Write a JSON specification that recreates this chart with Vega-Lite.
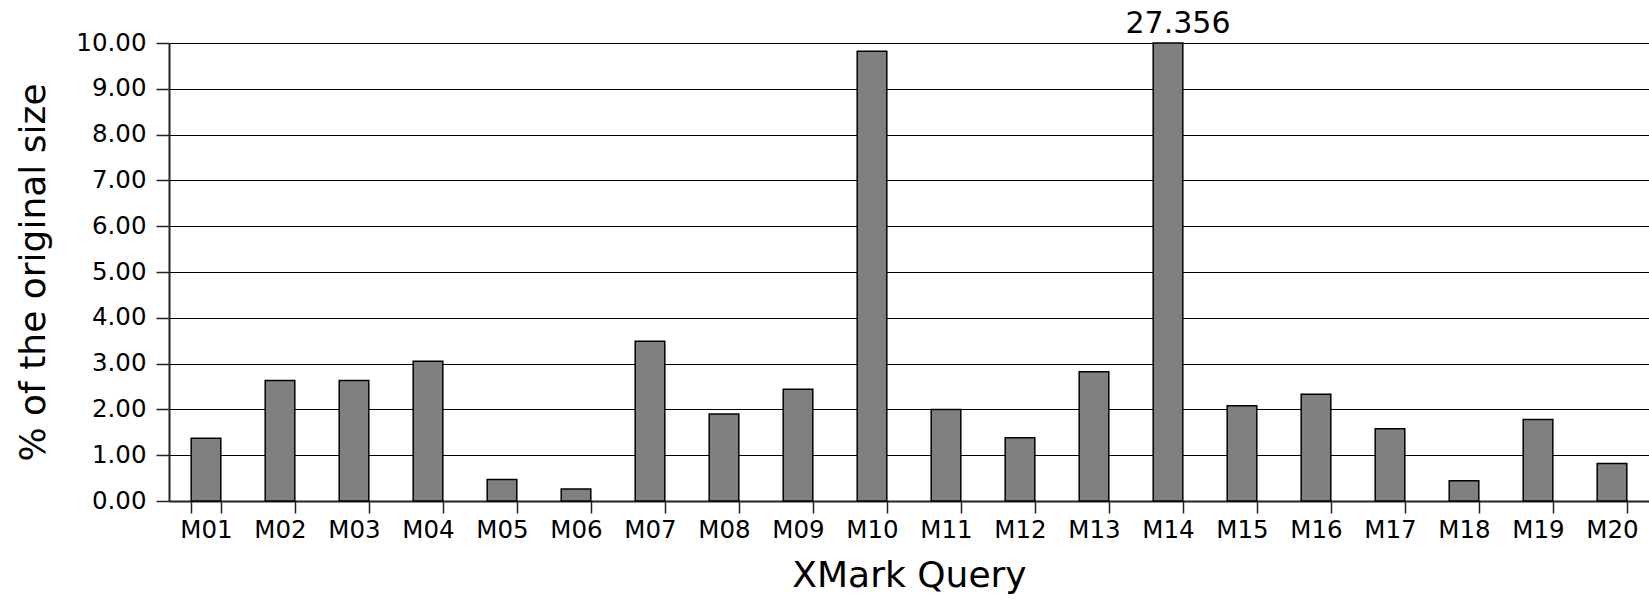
{
  "$schema": "https://vega.github.io/schema/vega-lite/v6.json",
  "width": 1480,
  "height": 458,
  "autosize": {"type": "none"},
  "padding": {"left": 169, "top": 43, "right": 0, "bottom": 98},
  "background": "white",
  "config": {
    "font": "DejaVu Sans",
    "view": {"stroke": null},
    "axis": {
      "labelFont": "DejaVu Sans",
      "titleFont": "DejaVu Sans",
      "labelColor": "#000",
      "titleColor": "#000",
      "titleFontWeight": "normal",
      "domainColor": "#222",
      "domainWidth": 2,
      "tickColor": "#222",
      "tickWidth": 1.5
    }
  },
  "data": {
    "values": [
      {"query": "M01", "value": 1.37},
      {"query": "M02", "value": 2.63},
      {"query": "M03", "value": 2.63},
      {"query": "M04", "value": 3.05},
      {"query": "M05", "value": 0.47},
      {"query": "M06", "value": 0.26},
      {"query": "M07", "value": 3.49},
      {"query": "M08", "value": 1.9},
      {"query": "M09", "value": 2.44},
      {"query": "M10", "value": 9.82},
      {"query": "M11", "value": 2.0},
      {"query": "M12", "value": 1.38},
      {"query": "M13", "value": 2.82},
      {"query": "M14", "value": 27.356},
      {"query": "M15", "value": 2.08},
      {"query": "M16", "value": 2.33},
      {"query": "M17", "value": 1.58},
      {"query": "M18", "value": 0.44},
      {"query": "M19", "value": 1.78},
      {"query": "M20", "value": 0.82}
    ]
  },
  "layer": [
    {
      "mark": {"type": "bar", "fill": "#808080", "stroke": "#000", "strokeWidth": 1.5},
      "encoding": {
        "x": {
          "field": "query",
          "type": "nominal",
          "title": "XMark Query",
          "scale": {"paddingInner": 0.6, "paddingOuter": 0.3},
          "axis": {
            "labelAngle": 0,
            "labelFontSize": 24.5,
            "tickBand": "extent",
            "tickSize": 12,
            "labelPadding": 5,
            "titleFontSize": 36,
            "titlePadding": 17,
            "grid": false
          }
        },
        "y": {
          "field": "value",
          "type": "quantitative",
          "title": "% of the original size",
          "scale": {"domain": [0, 10], "clamp": true, "nice": false},
          "axis": {
            "values": [0, 1, 2, 3, 4, 5, 6, 7, 8, 9, 10],
            "format": ".2f",
            "labelFontSize": 24.5,
            "tickSize": 13,
            "labelPadding": 10,
            "grid": true,
            "gridColor": "#000",
            "gridWidth": 1.2,
            "gridOpacity": 1,
            "titleFontSize": 36,
            "titlePadding": 23
          }
        }
      }
    },
    {
      "transform": [{"filter": "datum.value > 10"}],
      "mark": {"type": "text", "baseline": "alphabetic", "dy": -10, "dx": 10, "fontSize": 30, "color": "#000"},
      "encoding": {
        "x": {"field": "query", "type": "nominal", "title": "XMark Query"},
        "y": {"field": "value", "type": "quantitative", "title": "% of the original size"},
        "text": {"field": "value", "type": "quantitative", "format": ".3f"}
      }
    }
  ]
}
